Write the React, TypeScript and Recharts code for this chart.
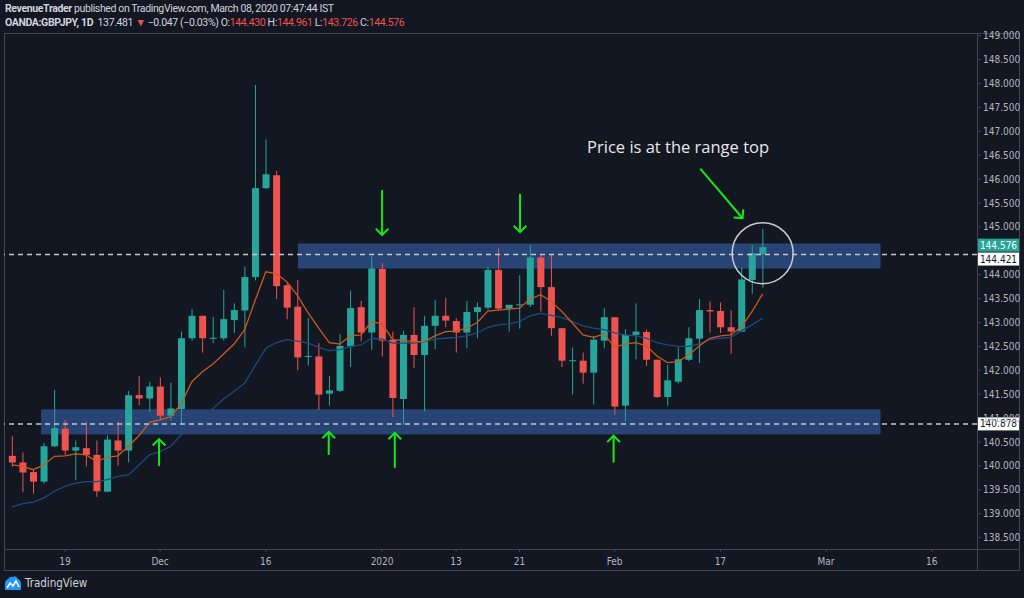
import {
  Bar,
  ComposedChart,
  Line,
  ReferenceArea,
  ReferenceDot,
  ReferenceLine,
  XAxis,
  YAxis,
} from "recharts";

// OANDA:GBPJPY daily, 12 Nov 2019 .. 21 Feb 2020 (bar index 0 = 19 Nov)
const firstIndex = -5;

const dates = [
  "2019-11-12", "2019-11-13", "2019-11-14", "2019-11-15", "2019-11-18", "2019-11-19", "2019-11-20", "2019-11-21",
  "2019-11-22", "2019-11-25", "2019-11-26", "2019-11-27", "2019-11-28", "2019-11-29", "2019-12-02", "2019-12-03",
  "2019-12-04", "2019-12-05", "2019-12-06", "2019-12-09", "2019-12-10", "2019-12-11", "2019-12-12", "2019-12-13",
  "2019-12-16", "2019-12-17", "2019-12-18", "2019-12-19", "2019-12-20", "2019-12-23", "2019-12-24", "2019-12-26",
  "2019-12-27", "2019-12-30", "2019-12-31", "2020-01-02", "2020-01-03", "2020-01-06", "2020-01-07", "2020-01-08",
  "2020-01-09", "2020-01-10", "2020-01-13", "2020-01-14", "2020-01-15", "2020-01-16", "2020-01-17", "2020-01-20",
  "2020-01-21", "2020-01-22", "2020-01-23", "2020-01-24", "2020-01-27", "2020-01-28", "2020-01-29", "2020-01-30",
  "2020-01-31", "2020-02-03", "2020-02-04", "2020-02-05", "2020-02-06", "2020-02-07", "2020-02-10", "2020-02-11",
  "2020-02-12", "2020-02-13", "2020-02-14", "2020-02-17", "2020-02-18", "2020-02-19", "2020-02-20", "2020-02-21",
];

const opens = [
  140.21, 140.07, 139.87, 139.67, 140.41, 140.78, 140.32, 140.37, 140.23, 139.46, 140.53, 140.32,
  141.48, 141.41, 141.66, 141.05, 141.19, 142.67, 143.14, 142.66, 142.67, 143.05, 143.25, 143.95,
  145.81, 146.08, 143.78, 143.33, 142.28, 142.29, 141.51, 141.57, 142.5, 143.32, 142.79, 144.12,
  142.64, 141.4, 142.74, 142.32, 142.93, 143.14, 143.03, 142.79, 143.22, 143.31, 144.1, 143.29,
  143.37, 143.37, 144.36, 143.74, 142.88, 142.2, 142.2, 141.95, 142.62, 143.11, 141.26, 142.74,
  142.8, 142.22, 141.44, 141.76, 142.22, 142.66, 143.26, 143.24, 142.9, 142.81, 143.89, 144.43,
];
const highs = [
  140.62, 140.28, 139.93, 140.48, 141.59, 140.96, 140.53, 140.93, 140.53, 140.64, 140.93, 141.57,
  141.88, 141.76, 141.85, 141.74, 142.81, 143.28, 143.14, 143.12, 143.68, 143.4, 144.17, 147.97,
  146.83, 146.17, 143.85, 143.89, 143.09, 142.57, 141.88, 142.76, 143.67, 143.45, 144.38, 144.24,
  142.81, 142.83, 143.32, 143.14, 143.47, 143.51, 143.09, 143.45, 143.42, 144.16, 144.55, 143.37,
  143.99, 144.62, 144.43, 144.43, 142.88, 142.48, 142.37, 142.72, 143.3, 143.11, 142.86, 143.4,
  142.85, 142.22, 142.11, 142.48, 142.9, 143.49, 143.44, 143.42, 143.26, 144.15, 144.62, 144.961,
];
const lows = [
  139.98, 139.45, 139.42, 139.63, 140.39, 140.23, 139.7, 139.99, 139.35, 139.45, 140.0, 140.07,
  141.27, 141.13, 140.95, 140.95, 140.86, 142.62, 142.37, 142.57, 142.62, 142.78, 142.48, 143.88,
  145.79, 143.49, 143.07, 142.0, 142.1, 141.17, 141.26, 141.55, 142.07, 142.6, 142.43, 142.29,
  141.02, 140.86, 142.05, 141.14, 142.44, 142.9, 142.37, 142.46, 142.67, 143.26, 143.26, 142.81,
  142.87, 143.32, 143.23, 142.72, 142.07, 141.49, 141.72, 141.28, 142.46, 141.07, 140.93, 142.23,
  142.09, 141.42, 141.26, 141.72, 142.19, 142.15, 142.79, 142.78, 142.34, 142.81, 143.6, 143.726,
];
const closes = [
  140.07, 139.86, 139.67, 140.41, 140.79, 140.32, 140.39, 140.23, 139.47, 140.55, 140.32, 141.48,
  141.41, 141.66, 141.05, 141.2, 142.67, 143.14, 142.67, 142.68, 143.07, 143.26, 143.95, 145.81,
  146.1, 143.76, 143.31, 142.27, 142.3, 141.49, 141.58, 142.51, 143.3, 142.79, 144.13, 142.62,
  141.42, 142.74, 142.32, 142.93, 143.14, 143.04, 142.79, 143.22, 143.32, 144.1, 143.29, 143.37,
  143.38, 144.36, 143.74, 142.88, 142.2, 142.21, 141.95, 142.64, 143.11, 141.24, 142.74, 142.81,
  142.22, 141.44, 141.79, 142.23, 142.67, 143.26, 143.23, 142.9, 142.81, 143.9, 144.45, 144.576,
];

// moving averages as drawn on the chart (orange fast, blue slow)
const fastAvg = [
  140.02, 139.99, 139.92, 140.02, 140.2, 140.21, 140.25, 140.23, 140.09, 140.18, 140.21, 140.41,
  140.63, 140.91, 140.96, 141.03, 141.3, 141.76, 141.97, 142.13, 142.34, 142.55, 142.85, 143.47,
  144.06, 144.02, 143.85, 143.56, 143.2, 142.88, 142.58, 142.55, 142.72, 142.74, 143.02, 142.97,
  142.64, 142.62, 142.6, 142.6, 142.72, 142.81, 142.82, 142.88, 143.0, 143.24, 143.26, 143.28,
  143.3, 143.49, 143.58, 143.44, 143.23, 142.99, 142.74, 142.69, 142.76, 142.48, 142.55, 142.58,
  142.51, 142.3, 142.16, 142.18, 142.32, 142.51, 142.67, 142.72, 142.74, 142.91, 143.23, 143.6,
];
const slowAvg = [
  139.14, 139.21, 139.24, 139.33, 139.47, 139.57, 139.64, 139.67, 139.67, 139.71, 139.78, 139.81,
  140.02, 140.23, 140.3, 140.41, 140.65, 140.9, 141.05, 141.2, 141.4, 141.56, 141.73, 142.1,
  142.46, 142.58, 142.64, 142.61, 142.57, 142.48, 142.41, 142.43, 142.5, 142.53, 142.67, 142.65,
  142.57, 142.57, 142.57, 142.6, 142.65, 142.67, 142.69, 142.72, 142.78, 142.9, 142.95, 142.97,
  143.02, 143.14, 143.19, 143.15, 143.1, 143.02, 142.93, 142.88, 142.85, 142.78, 142.74, 142.72,
  142.67, 142.58, 142.53, 142.5, 142.5, 142.55, 142.64, 142.67, 142.69, 142.83, 142.95, 143.09,
];

const xTickIndex = [0, 9, 19, 30, 37, 43, 52, 62, 72, 82];
const xTickLabels = ["19", "Dec", "16", "2020", "13", "21", "Feb", "17", "Mar", "16"];
// 144.500 sits under the price tags, so it is not listed
const yTicks = [138.5, 139, 139.5, 140, 140.5, 141, 141.5, 142, 142.5, 143, 143.5, 144, 145, 145.5, 146, 146.5, 147, 147.5, 148, 148.5, 149];

// drawings
const rangeTop = [144.14, 144.64];
const rangeBottom = [140.67, 141.17];
const rangeTopStart = 22.1;
const rangeBottomStart = -2.2;
const rangeEnd = 77.1;
const lastHighLine = 144.421;
const lastLowLine = 140.878;
const lastClose = 144.576;

const arrowStartX = [30, 43.05, 8.9, 24.95, 31.2, 51.9, 60.1];
const arrowEndX = [30, 43.05, 8.9, 24.95, 31.2, 51.9, 64.1];
const arrowStartY = [145.77, 145.69, 140.0, 140.23, 139.96, 140.07, 146.22];
const arrowEndY = [144.83, 144.89, 140.56, 140.71, 140.69, 140.63, 145.18];

const data = dates.map((date, i) => ({
  t: i + firstIndex,
  date,
  open: opens[i],
  high: highs[i],
  low: lows[i],
  close: closes[i],
  fast: fastAvg[i],
  slow: slowAvg[i],
}));

const lastBar = data[data.length - 1];

const X_DOMAIN: [number, number] = [-5.77, 86.28];
const Y_DOMAIN: [number, number] = [138.261, 149.056];

const UP = "#26a69a";
const DOWN = "#ef5350";
const FRAME = "#434651";
const AXIS_TEXT = "#b2b5be";
const ARROW = "#17e817";
const narrow = "'Liberation Sans Narrow', 'DejaVu Sans Condensed', 'Liberation Sans', sans-serif";

function Candle(props: any) {
  const { x, y, width, height, payload } = props;
  const { open, close, high, low } = payload;
  const color = close >= open ? UP : DOWN;
  const top = Math.min(y, y + height);
  const h = Math.abs(height);
  const k = high - low > 0 ? h / (high - low) : 0;
  const py = (v: number) => top + (high - v) * k;
  const cx = x + width / 2;
  const bodyTop = py(Math.max(open, close));
  const bodyBottom = py(Math.min(open, close));
  return (
    <g>
      <line x1={cx} x2={cx} y1={top} y2={top + h} stroke={color} strokeWidth={1} />
      <rect x={x} y={bodyTop} width={width} height={Math.max(1, bodyBottom - bodyTop)} fill={color} />
    </g>
  );
}

function Arrow(props: any) {
  const { x1, y1, x2, y2 } = props;
  const ang = Math.atan2(y2 - y1, x2 - x1);
  const len = 9;
  const a = ang + Math.PI - Math.PI / 4;
  const b = ang + Math.PI + Math.PI / 4;
  return (
    <g>
      <line x1={x1} y1={y1} x2={x2} y2={y2} stroke={ARROW} strokeWidth={2} />
      <polyline
        points={`${x2 + len * Math.cos(a)},${y2 + len * Math.sin(a)} ${x2},${y2} ${x2 + len * Math.cos(b)},${y2 + len * Math.sin(b)}`}
        fill="none"
        stroke={ARROW}
        strokeWidth={2}
      />
    </g>
  );
}

function PriceTag({ cx, cy, value, bg, fg, dy }: any) {
  return (
    <g>
      <rect x={cx + 1} y={cy - 6.5 + dy} width={41} height={13} fill={bg} />
      <text x={cx + 21.5} y={cy + dy + 3.5} textAnchor="middle" fontSize={10} fontFamily={narrow} fill={fg}>
        {value.toFixed(3)}
      </text>
    </g>
  );
}

function Header() {
  const red = { color: DOWN };
  return (
    <div
      style={{
        position: "absolute",
        left: 5,
        top: 2,
        color: "#d1d4dc",
        fontFamily: "Roboto, sans-serif",
        fontSize: 10.5,
        letterSpacing: -0.37,
        lineHeight: "14px",
        whiteSpace: "nowrap",
      }}
    >
      <div>
        <b>RevenueTrader</b> published on TradingView.com, March 08, 2020 07:47:44 IST
      </div>
      <div>
        <b>OANDA:GBPJPY, 1D</b>&nbsp; 137.481 <span style={red}>▼</span> −0.047 (−0.03%) O:
        <span style={red}>{lastBar.open.toFixed(3)}</span> H:<span style={red}>{lastBar.high.toFixed(3)}</span> L:
        <span style={red}>{lastBar.low.toFixed(3)}</span> C:<span style={red}>{lastBar.close.toFixed(3)}</span>
      </div>
    </div>
  );
}

function Footer() {
  return (
    <div style={{ position: "absolute", left: 4, top: 575, display: "flex", alignItems: "center", gap: 3 }}>
      <svg width={18} height={16} viewBox="0 0 18 16">
        <path d="M1 15 L1 9 Q1 5 4 4 Q6 1 9 2 Q12 0 14 4 Q17 5 17 9 L17 15 Z" fill="#2196f3" />
        <path d="M3 13 L6 8 L9 11 L12 6 L15 12" fill="none" stroke="#fff" strokeWidth={1.6} />
      </svg>
      <span style={{ color: "#d1d4dc", fontFamily: narrow, fontSize: 11.5 }}>TradingView</span>
    </div>
  );
}

export default function App() {
  return (
    <div style={{ position: "absolute", left: 0, top: 0, width: 1024, height: 598, background: "#131722", overflow: "hidden" }}>
      <style>{"body{margin:0;background:#131722}"}</style>
      <div style={{ position: "absolute", left: 4, top: 33, width: 1014, height: 536, border: `1px solid ${FRAME}` }} />
      <div style={{ position: "absolute", left: 977, top: 33, width: 1, height: 537, background: FRAME }} />
      <div style={{ position: "absolute", left: 4, top: 549, width: 1015, height: 1, background: FRAME }} />
      <Header />
      <div style={{ position: "absolute", left: 0, top: 0 }}>
        <ComposedChart width={1024} height={598} data={data} margin={{ top: 33, left: 4, right: 5, bottom: 28 }}>
          <XAxis
            dataKey="t"
            type="number"
            domain={X_DOMAIN}
            allowDataOverflow
            ticks={xTickIndex}
            tickFormatter={(v: number) => xTickLabels[xTickIndex.indexOf(v)] ?? ""}
            height={21}
            tickSize={3}
            tickMargin={6}
            axisLine={false}
            tickLine={{ stroke: FRAME }}
            tick={{ fill: AXIS_TEXT, fontSize: 10, fontFamily: narrow }}
          />
          <YAxis
            orientation="right"
            type="number"
            domain={Y_DOMAIN}
            allowDataOverflow
            ticks={yTicks}
            tickFormatter={(v: number) => v.toFixed(3)}
            width={42}
            tickSize={4}
            tickMargin={2}
            axisLine={false}
            tickLine={{ stroke: FRAME }}
            tick={{ fill: AXIS_TEXT, fontSize: 10, fontFamily: narrow, textAnchor: "start" }}
          />
          <ReferenceArea
            x1={rangeTopStart}
            x2={rangeEnd}
            y1={rangeTop[0]}
            y2={rangeTop[1]}
            fill="#284475"
            fillOpacity={1}
            stroke="#2f4d80"
          />
          <ReferenceArea
            x1={rangeBottomStart}
            x2={rangeEnd}
            y1={rangeBottom[0]}
            y2={rangeBottom[1]}
            fill="#284475"
            fillOpacity={1}
            stroke="#2f4d80"
          />
          <Line dataKey="slow" stroke="#1f4a7c" strokeWidth={1.3} dot={false} isAnimationActive={false} />
          <Line dataKey="fast" stroke="#c9591c" strokeWidth={1.3} dot={false} isAnimationActive={false} />
          <Bar dataKey={(d: any) => [d.low, d.high]} barSize={7} shape={Candle} isAnimationActive={false} />
          <ReferenceLine y={lastHighLine} stroke="#c3c6ce" strokeWidth={1.5} strokeDasharray="5 4" />
          <ReferenceLine y={lastLowLine} stroke="#c3c6ce" strokeWidth={1.5} strokeDasharray="5 4" />
          {arrowStartX.map((x, i) => (
            <ReferenceLine
              key={`arrow-${i}`}
              segment={[
                { x, y: arrowStartY[i] },
                { x: arrowEndX[i], y: arrowEndY[i] },
              ]}
              shape={Arrow}
            />
          ))}
          <ReferenceDot x={lastBar.t} y={144.45} r={30.5} fill="none" stroke="#c8cad0" strokeWidth={1.5} />
          <ReferenceDot
            x={58}
            y={146.54}
            r={0}
            shape={(p: any) => (
              <text x={p.cx} y={p.cy} textAnchor="middle" fill="#e6e8ec" fontSize={16.5} fontFamily="'Open Sans', sans-serif">
                Price is at the range top
              </text>
            )}
          />
          <ReferenceDot
            x={X_DOMAIN[1]}
            y={lastClose}
            r={0}
            ifOverflow="visible"
            shape={(p: any) => <PriceTag {...p} value={lastClose} bg={UP} fg="#ffffff" dy={-2} />}
          />
          <ReferenceDot
            x={X_DOMAIN[1]}
            y={lastHighLine}
            r={0}
            ifOverflow="visible"
            shape={(p: any) => <PriceTag {...p} value={lastHighLine} bg="#ffffff" fg="#131722" dy={4.5} />}
          />
          <ReferenceDot
            x={X_DOMAIN[1]}
            y={lastLowLine}
            r={0}
            ifOverflow="visible"
            shape={(p: any) => <PriceTag {...p} value={lastLowLine} bg="#ffffff" fg="#131722" dy={0} />}
          />
        </ComposedChart>
      </div>
      <Footer />
    </div>
  );
}
